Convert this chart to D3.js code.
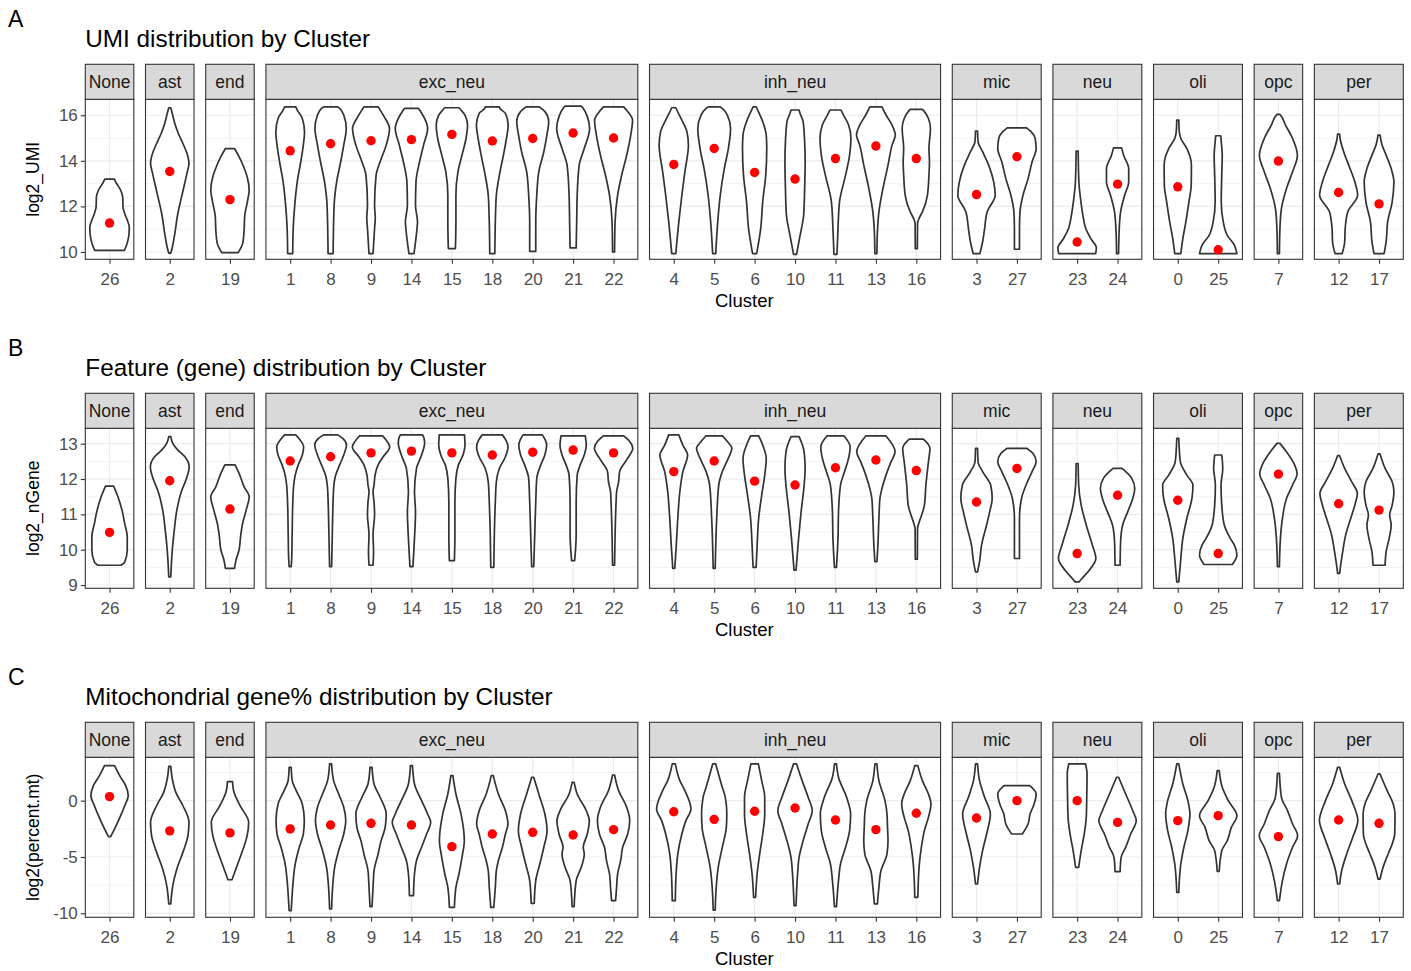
<!DOCTYPE html>
<html>
<head>
<meta charset="utf-8">
<script src="https://cdn.jsdelivr.net/npm/d3@7"></script>
<style>
  body { margin: 0; background: #fff; }
</style>
</head>
<body>
<svg id="chart"></svg>
<script>
// ---- data ----
const groups = ["None", "ast", "end", "exc_neu", "inh_neu", "mic", "neu", "oli", "opc", "per"];
const groupSizes = [1, 1, 1, 9, 7, 2, 2, 2, 1, 2];
const clusters = ["26", "2", "19", "1", "8", "9", "14", "15", "18", "20", "21", "22",
  "4", "5", "6", "10", "11", "13", "16", "3", "27", "23", "24", "0", "25", "7", "12", "17"];

// per-cluster means (red dots)
const umiMeans = [11.27, 13.53, 12.30, 14.44, 14.75, 14.88, 14.93, 15.16, 14.87, 14.98, 15.22, 15.0,
  13.84, 14.54, 13.49, 13.20, 14.10, 14.65, 14.10, 12.52, 14.18, 10.44, 12.98, 12.86, 10.10, 13.99, 12.61, 12.11];
const geneMeans = [10.49, 11.95, 11.15, 12.51, 12.63, 12.74, 12.79, 12.74, 12.68, 12.76, 12.82, 12.74,
  12.21, 12.51, 11.94, 11.83, 12.32, 12.54, 12.24, 11.35, 12.30, 9.89, 11.54, 11.40, 9.89, 12.14, 11.30, 11.12];
const mtMeans = [0.36, -2.68, -2.86, -2.51, -2.16, -2.01, -2.16, -4.08, -2.96, -2.81, -3.05, -2.57,
  -0.98, -1.66, -0.94, -0.65, -1.72, -2.57, -1.12, -1.54, 0.0, 0.0, -1.93, -1.77, -1.33, -3.19, -1.72, -2.01];

// violin outlines: [value, relative density] from bottom to top, same order as clusters
const umiProfiles = [
  [[10.07,14.7],[10.4,17.5],[10.81,19.3],[11.1,19.5],[11.4,17.5],[11.69,15],[11.98,13.3],[12.42,13],[12.71,11],[13.08,6],[13.2,4.7]],
  [[9.95,1],[10.2,2.5],[10.81,5],[11.69,8],[12.57,12.5],[13.45,17],[13.89,19],[14.33,17],[14.76,13],[15.2,8.5],[15.64,5],[16.08,2.5],[16.33,1]],
  [[9.97,8],[10.37,12.5],[10.95,14],[11.54,14.5],[12.27,17.5],[12.71,19],[13.3,17],[13.74,13.5],[14.18,9],[14.54,4.5]],
  [[9.93,2.5],[11.03,3],[12.05,4.5],[13.08,7],[13.96,10.5],[14.69,13],[15.27,14.2],[15.86,12],[16.23,7],[16.37,5.5]],
  [[9.93,2.5],[12.05,3.5],[13.08,6],[13.96,10],[14.69,13],[15.42,15.5],[16.01,13],[16.3,9],[16.37,7]],
  [[9.93,2],[11.03,3.5],[11.5,4.2],[12.05,3.5],[13.37,5],[13.96,9],[14.69,15],[15.42,18.3],[15.94,13],[16.3,8],[16.37,7]],
  [[9.93,2.5],[11.03,5.5],[11.32,6],[12.05,4],[13.08,4.5],[13.96,8],[14.69,12],[15.42,16],[15.86,13],[16.23,8],[16.3,7]],
  [[10.15,3.5],[11.32,4],[12.49,4],[13.52,6],[14.25,10],[14.98,14],[15.57,15.5],[16.01,13],[16.23,9],[16.33,7]],
  [[9.93,2.5],[11.32,3],[12.49,4],[13.37,7],[14.25,11],[14.98,14],[15.57,15.7],[16.08,13],[16.3,7.5],[16.37,7]],
  [[10.03,3],[11.32,3],[12.49,4],[13.52,6],[14.4,11],[15.13,14],[15.72,15.8],[16.16,12],[16.37,6.5]],
  [[10.18,3],[11.32,3.5],[12.49,4],[13.81,6],[14.54,11],[15.42,16.3],[15.94,14],[16.3,10],[16.4,8]],
  [[10.0,1],[11.32,1.5],[12.49,4],[13.37,8],[14.25,13],[15.13,17],[15.79,18.8],[16.16,14],[16.37,10]],
  [[9.93,2],[11.32,5],[12.49,8],[13.52,11],[14.69,14.5],[15.28,13],[15.79,8],[16.23,3],[16.33,2]],
  [[9.93,1.5],[11.32,3.5],[12.49,6],[13.66,10],[14.54,14],[15.42,16.2],[16.01,13],[16.3,8],[16.37,6]],
  [[9.93,2],[11.03,6],[12.2,8],[13.37,11],[14.54,12],[15.13,11.5],[15.72,8],[16.23,3],[16.37,1.5]],
  [[9.9,1.5],[10.73,5],[11.61,8.5],[12.79,9.5],[13.96,10],[14.84,9.5],[15.72,8],[16.08,5],[16.23,4]],
  [[9.9,1.5],[11.03,2.5],[12.2,4],[13.37,10],[14.25,14],[14.98,15.3],[15.57,13],[16.01,8],[16.23,5.5]],
  [[9.93,1],[10.88,1.5],[11.76,3],[12.79,7],[13.81,12],[14.69,16],[15.13,19.2],[15.57,16],[16.01,10],[16.37,6]],
  [[10.15,1],[11.25,1.2],[11.45,2.5],[11.76,6],[12.49,11],[13.37,12.5],[13.96,13],[14.54,12.5],[15.42,14],[15.86,12],[16.16,8],[16.26,6]],
  [[9.93,3.3],[10.44,6],[11.03,8],[11.76,10.5],[12.49,18.5],[13.08,17],[13.81,12],[14.4,6],[14.84,1.5],[15.31,1]],
  [[10.12,2.5],[11.03,2.5],[11.76,3],[12.49,6],[13.22,11],[13.96,15],[14.54,19],[14.98,18],[15.28,14],[15.45,9.5]],
  [[9.93,18.3],[10.18,19],[10.59,13.5],[11.03,8.5],[11.61,5.7],[12.35,3.3],[13.08,1.7],[14.43,1]],
  [[9.93,1],[10.88,1.5],[11.76,3],[12.49,7],[13.08,11],[13.66,11],[14.25,6],[14.57,4]],
  [[9.93,3],[10.59,5],[11.32,8],[12.2,11],[12.93,13.3],[13.81,13.5],[14.54,9],[14.98,3],[15.28,1.5],[15.79,1]],
  [[9.93,18.5],[10.3,16],[10.73,9],[11.32,5],[12.2,3],[13.37,3.5],[14.25,4],[14.84,3],[15.1,2.5]],
  [[9.93,1],[11.03,1.5],[11.91,3],[12.79,8],[13.52,14],[14.25,18.8],[14.98,14],[15.57,7],[16.01,2],[16.04,1]],
  [[9.93,3.5],[10.44,6],[11.03,6.5],[11.76,9],[12.49,18.8],[13.08,16],[13.81,10],[14.4,5],[14.98,1.5],[15.17,1]],
  [[9.93,5],[10.44,7],[11.32,8.5],[12.2,13],[13.08,14.7],[13.66,12],[14.25,7],[14.69,3],[15.13,1]]
];

const geneProfiles = [
  [[9.56,11.5],[9.65,15],[9.99,17.5],[10.37,17.5],[10.74,15],[11.12,12.3],[11.5,8.3],[11.8,4]],
  [[9.23,1],[9.99,2.5],[10.56,4.5],[11.12,7],[11.69,12],[11.97,16],[12.35,19.2],[12.63,15],[12.82,8],[13.01,3],[13.2,1]],
  [[9.47,4.5],[9.71,6],[9.99,9],[10.37,10.5],[10.74,12.5],[11.12,16],[11.5,19],[11.78,14],[12.16,9],[12.4,5]],
  [[9.52,1],[9.75,1.5],[10.51,2],[11.26,2.5],[11.83,3.5],[12.11,5],[12.4,8],[12.68,12],[12.91,13.3],[13.1,10],[13.25,5.5]],
  [[9.52,1],[10.89,2],[11.73,3],[12.11,5],[12.4,9],[12.68,13],[12.96,15.7],[13.15,12],[13.25,7]],
  [[9.56,2],[9.94,2.5],[10.42,2],[10.98,3.5],[11.35,3],[11.64,2],[11.83,3],[12.11,4],[12.4,7],[12.63,12],[12.91,18.5],[13.06,16],[13.22,11.5]],
  [[9.52,1.5],[10.32,3],[11.07,4],[11.64,3],[12.3,5],[12.68,10],[13.01,13],[13.15,12.5],[13.25,11]],
  [[9.69,2.5],[10.42,3],[11.35,3],[12.02,4],[12.4,6.5],[12.68,11],[12.96,13],[13.25,12.5]],
  [[9.5,1.5],[10.42,2],[11.35,3],[11.92,4],[12.3,7],[12.63,13],[12.91,15.5],[13.1,13.5],[13.25,10]],
  [[9.52,1],[10.42,2],[11.35,3],[12.02,4],[12.4,8],[12.68,12],[12.96,13.8],[13.1,12.5],[13.25,9.5]],
  [[9.69,1.5],[10.42,3],[11.35,3],[12.11,4],[12.4,7],[12.68,11],[12.96,13],[13.22,12]],
  [[9.56,1],[10.42,1.5],[11.35,2.5],[11.64,3],[11.92,5],[12.21,6],[12.59,14],[12.87,19],[13.06,16],[13.22,10]],
  [[9.47,1],[10.13,2.5],[10.89,4],[11.64,6],[12.21,9],[12.68,13.7],[12.96,9],[13.25,5]],
  [[9.47,1],[10.89,2.5],[11.83,4.5],[12.21,8],[12.59,14],[12.87,17.5],[13.06,13],[13.22,8.3]],
  [[9.5,1.5],[10.13,2.5],[10.89,4],[11.54,7],[12.11,10],[12.59,11.5],[12.96,8],[13.22,4]],
  [[9.42,1],[10.32,3.5],[11.07,6],[11.83,9],[12.3,10],[12.77,9],[13.2,4]],
  [[9.5,1],[10.32,2.5],[11.07,3],[11.83,5],[12.21,9],[12.59,13],[12.91,14.5],[13.22,8.5]],
  [[9.66,1],[10.13,2],[10.89,3],[11.45,4],[11.73,6],[12.11,10],[12.49,15],[12.77,19],[13.22,10]],
  [[9.73,1],[10.6,1.2],[10.75,2.5],[11.0,5.5],[11.26,8],[11.83,9.5],[12.49,12],[12.87,13.5],[13.13,7]],
  [[9.37,1],[9.66,3],[10.13,5],[10.7,10],[11.07,13],[11.45,15.5],[11.83,14],[12.21,6],[12.49,1.5],[12.87,1]],
  [[9.75,2.5],[10.89,2.5],[11.45,4.5],[11.83,9],[12.21,15],[12.49,19],[12.72,16],[12.87,9.5]],
  [[9.09,2],[9.19,5],[9.42,12],[9.75,18.5],[10.13,15],[10.7,9],[11.26,4],[11.83,1.5],[12.44,1]],
  [[9.56,2.5],[10.23,3],[10.7,5],[11.07,10],[11.45,15],[11.73,17],[12.02,14],[12.3,4.5]],
  [[9.09,1],[9.75,3],[10.32,5],[10.89,9],[11.45,14],[11.83,15],[12.11,9],[12.49,2.5],[13.15,1]],
  [[9.58,14],[9.84,18.5],[10.13,16],[10.32,12],[10.7,6],[11.26,3.5],[11.83,2.8],[12.3,4.5],[12.68,3.5]],
  [[9.52,1],[10.32,2],[10.89,4],[11.45,8],[11.83,14],[12.16,18.5],[12.4,16],[12.77,8],[13.01,1.5]],
  [[9.33,1],[9.56,2],[9.94,4],[10.42,7],[10.89,12],[11.26,16],[11.59,18.5],[11.92,13],[12.3,6],[12.66,1]],
  [[9.56,6],[9.94,7],[10.32,10],[10.7,12],[10.98,10.5],[11.26,13],[11.64,14.7],[11.92,13],[12.3,6],[12.71,1]]
];

const mtProfiles = [
  [[-3.2,1],[-2.5,5],[-1.33,11],[-0.45,15],[0.44,18.5],[1.33,16],[2.22,10],[3.11,5]],
  [[-9.17,1],[-7.55,3],[-6.07,7],[-4.59,13],[-3.11,18],[-1.92,19],[-0.45,13],[0.74,6],[1.93,2.5],[3.05,1]],
  [[-7.02,2],[-5.78,7],[-4.3,13],[-3.11,17],[-1.92,18.5],[-0.45,10],[0.74,4],[1.69,2.5]],
  [[-9.77,1],[-8.29,2],[-7.1,3],[-5.62,5],[-4.14,9],[-2.96,13],[-1.77,14],[-0.3,12],[0.89,6],[1.78,2],[2.96,1]],
  [[-9.62,1],[-7.69,2],[-5.92,4],[-4.43,8],[-2.96,13],[-1.77,15],[-0.59,13],[0.59,8],[1.78,3],[3.26,1]],
  [[-9.41,1],[-7.69,2],[-6.22,3],[-4.73,7],[-3.55,10],[-2.37,14],[-1.18,15],[0.3,9],[1.48,3],[2.96,1]],
  [[-8.43,2],[-6.51,3],[-5.33,5],[-4.14,10],[-2.96,15],[-1.92,19],[-1.18,16],[0.0,10],[1.48,3],[3.11,1]],
  [[-9.47,2.5],[-8.58,3],[-7.69,4],[-6.51,7],[-5.03,10],[-3.55,12.3],[-2.96,12],[-1.18,9],[0.59,4],[2.22,1]],
  [[-9.47,1.5],[-7.69,3],[-6.22,4],[-5.33,6],[-4.14,10],[-2.96,13],[-2.07,15.5],[-0.89,13],[0.59,6],[2.22,1]],
  [[-9.11,1.5],[-7.1,3],[-5.62,7],[-4.14,11],[-2.66,14.2],[-1.18,12],[0.59,6],[2.08,1]],
  [[-9.41,1],[-7.1,3],[-5.92,8],[-4.73,11],[-4.14,10],[-2.96,14],[-1.77,16],[-0.89,13],[0.59,4],[1.63,1]],
  [[-8.88,2],[-7.69,3],[-6.51,4],[-5.33,7],[-4.14,9],[-2.96,14],[-1.77,16],[-0.59,13],[0.89,5],[2.28,1]],
  [[-8.88,1.5],[-6.22,2.5],[-4.73,4],[-2.96,8],[-1.77,12],[-0.74,17],[0.89,11],[1.78,6],[3.26,1.5]],
  [[-9.71,1],[-7.69,2],[-5.92,4],[-4.14,8],[-2.37,12],[-1.18,12.5],[0.3,11],[1.19,8],[3.26,1.5]],
  [[-8.58,1],[-6.51,2.5],[-4.73,5],[-2.96,8],[-1.18,10],[0.3,10],[1.78,7],[3.26,3.7]],
  [[-9.32,1],[-6.51,2.5],[-5.03,4],[-3.55,8],[-2.07,13],[-0.89,17],[0.3,13],[1.78,7],[3.26,1.5]],
  [[-9.41,1],[-7.1,3],[-5.62,5],[-4.14,10],[-2.66,14],[-1.18,15],[0.3,11],[2.08,3],[3.26,1]],
  [[-9.17,1.5],[-7.69,3],[-6.22,5],[-4.73,11],[-3.55,12],[-2.37,11.5],[-1.18,11],[0.0,9],[1.78,3],[3.26,1]],
  [[-8.58,1.5],[-5.62,3],[-4.14,5],[-2.66,8],[-1.48,12],[-0.3,14.5],[0.59,12],[1.78,6],[3.11,1.5]],
  [[-7.4,1],[-5.92,3],[-4.43,6],[-2.96,10],[-1.18,13.7],[0.3,8],[1.78,3],[3.26,1]],
  [[-2.96,5.3],[-2.07,11],[-1.18,13],[-0.3,17],[0.59,19],[1.33,12.7]],
  [[-5.92,1.5],[-4.43,4],[-2.96,7],[-1.48,9],[0.3,9.5],[2.37,9.8],[3.26,8.3]],
  [[-6.3,2.5],[-5.03,3.5],[-4.14,8],[-2.96,13],[-1.77,18.5],[-0.89,15],[0.59,8],[2.08,1]],
  [[-8.14,1],[-5.62,3],[-4.14,6],[-2.66,10],[-1.18,12],[0.0,10],[1.48,5],[3.26,1]],
  [[-6.27,1],[-4.44,3.5],[-3.55,9],[-2.37,13],[-1.33,18.5],[0.0,10],[1.19,4],[2.67,1]],
  [[-8.88,1],[-7.1,4],[-5.62,8],[-4.14,14],[-3.1,19],[-2.07,14],[-0.89,9],[0.3,3],[2.43,1]],
  [[-7.4,1],[-6.22,3],[-4.73,8],[-3.25,14],[-1.77,19],[0.0,13],[1.48,6],[2.96,1]],
  [[-6.96,1],[-5.92,4],[-4.73,9],[-3.85,13],[-2.96,15.5],[-1.18,15.8],[-0.3,14],[0.89,8],[2.37,1]]
];

const umiTicks = [10, 12, 14, 16], umiMinor = [11, 13, 15];
const geneTicks = [9, 10, 11, 12, 13], geneMinor = [9.5, 10.5, 11.5, 12.5];
const mtTicks = [-10, -5, 0], mtMinor = [-7.5, -2.5, 2.5];

// ---- layout ----
const width = 1411, height = 971;
const font = "'Liberation Sans', Arial, Helvetica, sans-serif";
const left = 85.3, right = 1403.3, gap = 11.7;
const unit = (right - left - gap * (groups.length - 1)) / (clusters.length + 0.2 * groups.length);

const svg = d3.select('#chart')
    .attr("width", width)
    .attr("height", height)
    .style("font-family", font);

// one point scale per facet, ggplot-like 0.6 expansion each side
let cursor = left, offset = 0;
const facets = groups.map((g, i) => {
    const names = clusters.slice(offset, offset + groupSizes[i]);
    const idx = d3.range(offset, offset + groupSizes[i]);
    offset += groupSizes[i];
    const w = (names.length + 0.2) * unit;
    const x = d3.scalePoint().domain(names).range([cursor, cursor + w]).padding(0.6);
    const f = {name: g, names, idx, x, x0: cursor, x1: cursor + w};
    cursor += w + gap;
    return f;
});

const widthScale = d3.scaleLinear().domain([0, 20]).range([0, unit * 0.5]);

const panels = [
    {letter: "A", title: "UMI distribution by Cluster", ylab: "log2_UMI", domain: [9.68, 16.70],
     ticks: umiTicks, minor: umiMinor, profiles: umiProfiles, means: umiMeans, stripTop: 64.3},
    {letter: "B", title: "Feature (gene) distribution by Cluster", ylab: "log2_nGene", domain: [8.907, 13.436],
     ticks: geneTicks, minor: geneMinor, profiles: geneProfiles, means: geneMeans, stripTop: 393.3},
    {letter: "C", title: "Mitochondrial gene% distribution by Cluster", ylab: "log2(percent.mt)", domain: [-10.355, 3.85],
     ticks: mtTicks, minor: mtMinor, profiles: mtProfiles, means: mtMeans, stripTop: 722.3}
];

const stripH = 35, plotH = 160;

panels.forEach(p => {
    const top = p.stripTop + stripH, bottom = top + plotH;
    const y = d3.scaleLinear().domain(p.domain).range([bottom, top]);
    const g = svg.append("g");

    g.append("text").attr("x", 8).attr("y", p.stripTop - 37.7)
        .attr("font-size", 23).attr("fill", "#000").text(p.letter);
    g.append("text").attr("x", left).attr("y", p.stripTop - 17)
        .attr("font-size", 24.3).attr("fill", "#000").text(p.title);

    // y axis title
    g.append("text")
        .attr("transform", `translate(39,${(top + bottom) / 2}) rotate(-90)`)
        .attr("text-anchor", "middle").attr("font-size", 17.5).attr("fill", "#000")
        .text(p.ylab);

    // y axis
    const yAxis = g.append("g")
        .attr("transform", `translate(${left},0)`)
        .call(d3.axisLeft(y).tickValues(p.ticks).tickFormat(d => String(d)).tickSize(4.5).tickPadding(3));
    yAxis.select(".domain").remove();
    yAxis.selectAll(".tick line").attr("stroke", "#333").attr("stroke-width", 1.1);
    yAxis.selectAll(".tick text").attr("fill", "#4D4D4D").attr("font-size", 17).attr("font-family", font);

    facets.forEach(f => {
        const fg = g.append("g");
        // panel background + grid
        fg.append("rect").attr("x", f.x0).attr("y", top).attr("width", f.x1 - f.x0).attr("height", plotH)
            .attr("fill", "#fff");
        fg.selectAll(".minor").data(p.minor).join("line")
            .attr("x1", f.x0).attr("x2", f.x1).attr("y1", d => y(d)).attr("y2", d => y(d))
            .attr("stroke", "#EBEBEB").attr("stroke-width", 0.6);
        fg.selectAll(".major").data(p.ticks).join("line")
            .attr("x1", f.x0).attr("x2", f.x1).attr("y1", d => y(d)).attr("y2", d => y(d))
            .attr("stroke", "#EBEBEB").attr("stroke-width", 1.2);
        fg.selectAll(".vgrid").data(f.names).join("line")
            .attr("x1", d => f.x(d)).attr("x2", d => f.x(d)).attr("y1", top).attr("y2", bottom)
            .attr("stroke", "#EBEBEB").attr("stroke-width", 1.2);

        // violins
        f.idx.forEach(i => {
            const cx = f.x(clusters[i]);
            const area = d3.area()
                .y(d => y(d[0]))
                .x0(d => cx - widthScale(d[1]))
                .x1(d => cx + widthScale(d[1]))
                .curve(d3.curveMonotoneY);
            fg.append("path")
                .datum(p.profiles[i])
                .attr("d", area)
                .attr("fill", "#fff")
                .attr("stroke", "#333")
                .attr("stroke-width", 1.7)
                .attr("stroke-linejoin", "round");
            fg.append("circle")
                .attr("cx", cx).attr("cy", y(p.means[i])).attr("r", 4.7)
                .attr("fill", "#FF0000");
        });

        // panel border
        fg.append("rect").attr("x", f.x0).attr("y", top).attr("width", f.x1 - f.x0).attr("height", plotH)
            .attr("fill", "none").attr("stroke", "#333").attr("stroke-width", 1.1);

        // strip
        fg.append("rect").attr("x", f.x0).attr("y", p.stripTop).attr("width", f.x1 - f.x0).attr("height", stripH)
            .attr("fill", "#D9D9D9").attr("stroke", "#333").attr("stroke-width", 1.1);
        fg.append("text").attr("x", (f.x0 + f.x1) / 2).attr("y", p.stripTop + 24)
            .attr("text-anchor", "middle").attr("font-size", 17.5).attr("fill", "#1A1A1A").text(f.name);

        // x axis
        const xAxis = fg.append("g")
            .attr("transform", `translate(0,${bottom})`)
            .call(d3.axisBottom(f.x).tickSize(4.5).tickPadding(9));
        xAxis.select(".domain").remove();
        xAxis.selectAll(".tick line").attr("stroke", "#333").attr("stroke-width", 1.1);
        xAxis.selectAll(".tick text").attr("fill", "#4D4D4D").attr("font-size", 17).attr("font-family", font);
    });

    g.append("text").attr("x", (left + right) / 2).attr("y", bottom + 47.7)
        .attr("text-anchor", "middle").attr("font-size", 18.5).attr("fill", "#000").text("Cluster");
});
</script>
</body>
</html>
